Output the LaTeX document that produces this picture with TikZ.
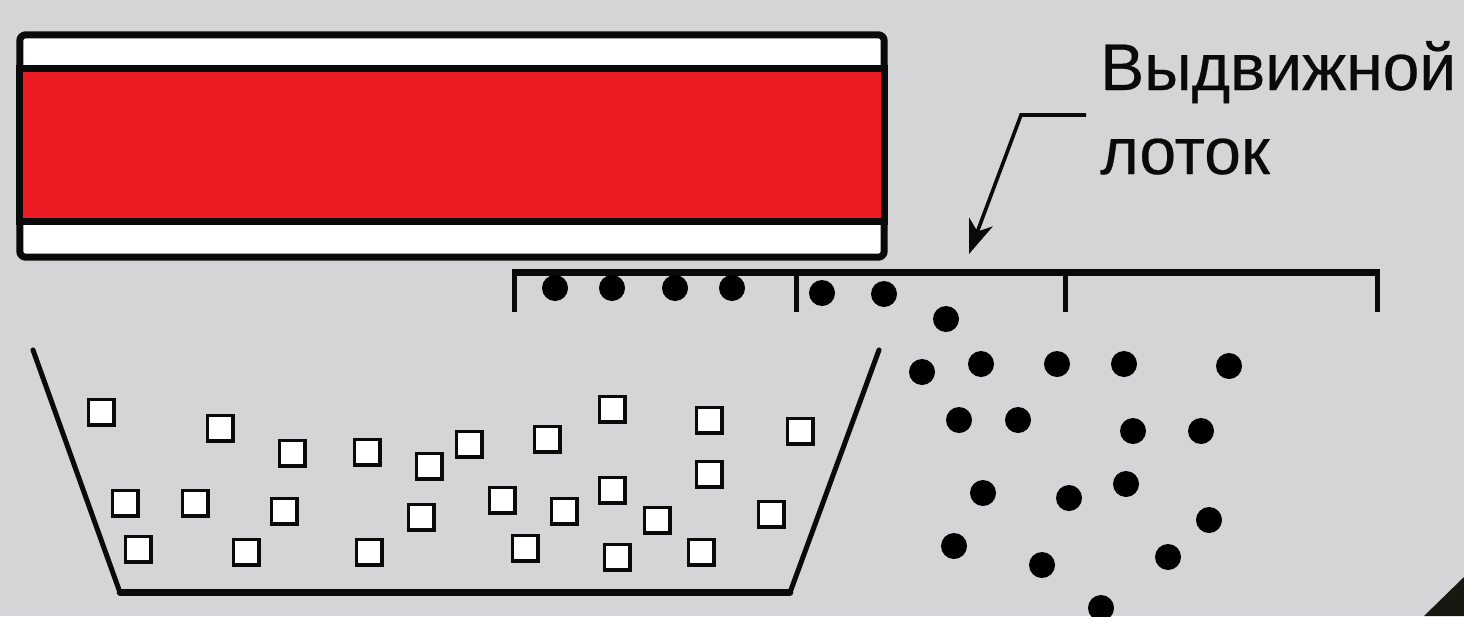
\documentclass[tikz,border=0pt]{standalone}
\usepackage{fontspec}
\setmainfont[FakeBold=0.35]{Liberation Sans}
\usetikzlibrary{arrows.meta}
\definecolor{bgc}{RGB}{213,213,215}
\definecolor{redc}{RGB}{237,28,36}
\definecolor{inkc}{RGB}{10,10,10}
\definecolor{cornerc}{RGB}{24,24,18}
\tikzset{
  x=1pt,y=-1pt,
  outline/.style={draw=inkc,line width=7pt},
  traybar/.style={draw=inkc,line width=7pt,line cap=butt},
  traytick/.style={draw=inkc,line width=5pt,line cap=butt},
  bucketside/.style={draw=inkc,line width=5pt,line cap=round},
  bucketfloor/.style={draw=inkc,line width=6.5pt,line cap=round},
  piece/.style={draw=inkc,fill=white,line width=3.5pt,minimum size=25.5pt,inner sep=0pt,outer sep=0pt,rectangle},
  ball/.style={fill=black,circle,minimum size=26pt,inner sep=0pt,outer sep=0pt},
  lbl/.style={anchor=base west,inner sep=0pt,text=inkc,font=\fontsize{66}{66}\selectfont},
}
\begin{document}
\begin{tikzpicture}
\useasboundingbox (0,0) rectangle (1464,616);
\fill[bgc] (0,0) rectangle (1464,616);
\fill[cornerc] (1424,616) -- (1464,577) -- (1464,616) -- cycle;
% machine
\node[draw=none,minimum width=864pt,minimum height=222pt,inner sep=0pt] (body) at (452,146) {};
\draw[outline,fill=white,rounded corners=6pt] (body.north west) rectangle (body.south east);
\draw[outline,fill=redc] (body.west |- 0,68) coordinate (rtl) rectangle (body.east |- 0,221) coordinate (rbr);
% tray
\coordinate (t0) at (514,272.5);
\coordinate (t1) at (796,272.5);
\coordinate (t2) at (1065,272.5);
\coordinate (t3) at (1377,272.5);
\draw[traytick] (t0) -- (514,312);
\draw[traytick] (t1) -- (796,312);
\draw[traytick] (t2) -- (1065,312);
\draw[traytick] (t3) -- (1377,312);
\draw[traybar] ([xshift=-2.5pt]t0) -- ([xshift=2.5pt]t3);
% bucket
\coordinate (b0) at (33,350);
\coordinate (b1) at (120,592.5);
\coordinate (b2) at (790,592.5);
\coordinate (b3) at (879,350);
\draw[bucketside] (b0) -- (b1);
\draw[bucketside] (b3) -- (b2);
\draw[bucketfloor] (b1) -- (b2);
% squares
\foreach \i/\p in {1/{101,412},2/{220,428},3/{292,453},4/{367,452},5/{429,466},6/{469,444},7/{547,439},8/{612,409},9/{709,420},10/{800,431},11/{709,474},12/{125,503},13/{195,503},14/{284,511},15/{421,517},16/{502,500},17/{564,511},18/{612,490},19/{657,520},20/{771,514},21/{138,549},22/{246,552},23/{369,552},24/{525,548},25/{617,557},26/{701,552}}
  \node[piece] (s\i) at (\p) {};
% balls
\foreach \i/\p in {1/{555,288},2/{612,288},3/{675,288},4/{732,288},5/{822,293},6/{884,294},7/{946,319},8/{922,372},9/{981,364},10/{1057,364},11/{1124,364},12/{1229,366},13/{959,420},14/{1018,420},15/{1133,431},16/{1201,431},17/{983,493},18/{1069,498},19/{1126,484},20/{1209,520},21/{954,546},22/{1042,565},23/{1168,557},24/{1101,608}}
  \node[ball] (d\i) at (\p) {};
% label
\node[lbl] (l1) at (1100,90) {Выдвижной};
\node[lbl] (l2) at (1100,174) {лоток};
\coordinate (a0) at (1086,115);
\coordinate (a1) at (1021,115);
\coordinate (a2) at (969,254);
\draw[draw=inkc,line width=3.6pt,-{Stealth[length=34pt,width=25pt,inset=10pt]}] (a0) -- (a1) -- (a2);
\end{tikzpicture}
\end{document}
